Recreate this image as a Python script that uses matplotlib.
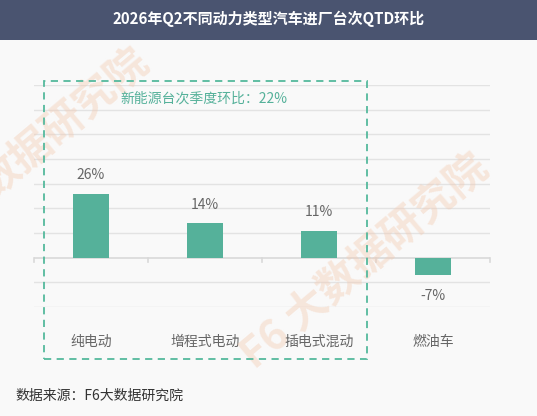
import numpy as np
import matplotlib.pyplot as plt
from matplotlib.patches import Rectangle

plt.rcParams['font.family'] = ['Noto Sans CJK SC', 'DejaVu Sans']

categories = ['纯电动', '增程式电动', '插电式混动', '燃油车']
values = [26, 14, 11, -7]
title = '2026年Q2不同动力类型汽车进厂台次QTD环比'
note = '新能源台次季度环比：22%'
source = '数据来源：F6大数据研究院'

W, H = 537, 416
fig = plt.figure(figsize=(W / 100, H / 100), dpi=100)
fig.patch.set_facecolor('#f9f9f9')

# title band
fig.patches.append(Rectangle((0, 1 - 40 / H), 1, 40 / H, transform=fig.transFigure,
                             facecolor='#4a5470', edgecolor='none', zorder=0))
fig.text(0.5, 1 - 19 / H, title, color='white', fontsize=10.8, fontweight='bold',
         ha='center', va='center')

# watermarks
fig.text(0.68, 0.37, 'F6 大数据研究院', color='#f3c9ae', alpha=0.4, fontsize=30,
         fontweight='bold', rotation=40, ha='center', va='center', zorder=0)
fig.text(0.12, 0.70, '数据研究院', color='#f3c9ae', alpha=0.4, fontsize=30,
         fontweight='bold', rotation=40, ha='center', va='center', zorder=0)

ax = fig.add_axes([34 / W, (H - 307) / H, (490 - 34) / W, (307 - 85) / H])
ax.set_facecolor('none')
x = np.arange(len(categories))
ax.bar(x, values, width=0.31, color='#55b19a', zorder=3)
ax.set_xlim(-0.5, len(categories) - 0.5)
ax.set_ylim(-20, 70)
for y in range(-20, 71, 10):
    if y != 0:
        ax.axhline(y, color='#e3e3e3', lw=1, zorder=1)
ax.axhline(0, color='#d9d9d9', lw=1.2, zorder=2)
for b in np.arange(-0.5, len(categories), 1.0):
    ax.plot([b, b], [0, -1.6], color='#d9d9d9', lw=1.2, zorder=2, clip_on=False)
for s in ax.spines.values():
    s.set_visible(False)
ax.set_xticks([])
ax.set_yticks([])

for xi, v in zip(x, values):
    off = 7.5 if v > 0 else -8.5
    ax.text(xi, v + off, f'{v}%', ha='center', va='center', fontsize=10, color='#666666')

for xi, c in zip(x, categories):
    ax.text(xi, -34, c, ha='center', va='center', fontsize=10, color='#666666', clip_on=False)

# dashed box around NEV categories
fig.patches.append(Rectangle((44 / W, (H - 359) / H), (367 - 44) / W, (359 - 81) / H,
                             transform=fig.transFigure, fill=False, edgecolor='#55b99d',
                             lw=1.3, ls=(0, (4, 3)), zorder=5))
fig.text(204 / W, 1 - 99 / H, note, color='#55b19a', fontsize=10, ha='center', va='center')

fig.text(15 / W, 1 - 396 / H, source, color='#333333', fontsize=10, ha='left', va='center')

fig.savefig('out.png', dpi=100, facecolor=fig.get_facecolor())
